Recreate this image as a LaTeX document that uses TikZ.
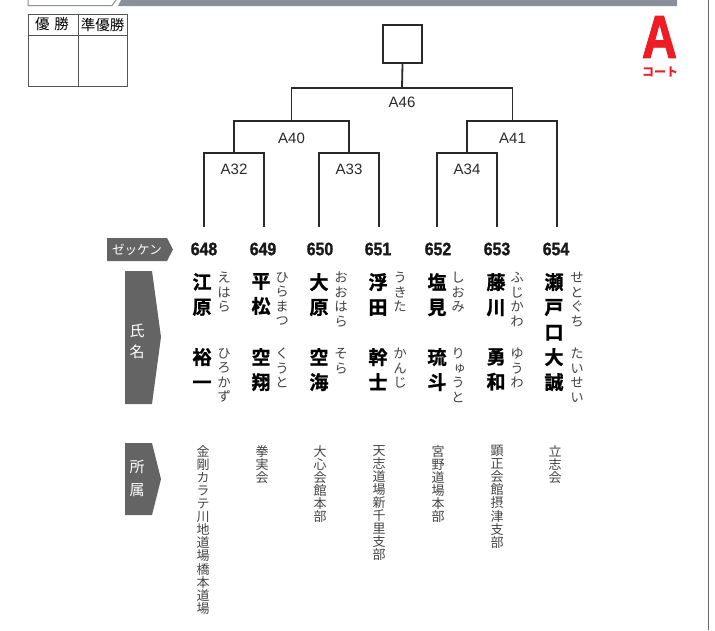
\documentclass[tikz,border=0pt]{standalone}
\usepackage{fontspec}
\usepackage{xcolor}
\usepackage{tikz}
\usetikzlibrary{positioning}

\newfontfamily\jpfont{Noto Sans CJK JP}
\newfontfamily\tatefont[RawFeature=+vert]{Noto Sans CJK JP}
\newfontfamily\tatebold[RawFeature=+vert,FakeBold=1.2]{Noto Sans CJK JP Bold}
\newfontfamily\lsans{Liberation Sans}
\newfontfamily\numfont[FakeStretch=0.88,FakeBold=1.4]{Liberation Sans Bold}
\newfontfamily\courtfont[FakeStretch=0.8,FakeBold=1.5]{Liberation Sans Bold}

\definecolor{bandgrey}{HTML}{8A8F9C}
\definecolor{tabgrey}{HTML}{646464}
\definecolor{courtred}{HTML}{EE1C25}
\definecolor{inkgrey}{HTML}{2A2A2A}
\definecolor{kanagrey}{HTML}{444444}

\begin{document}
\begin{tikzpicture}[x=1pt,y=-1pt,
    bracket/.style={draw=inkgrey,line width=1.8pt},
    match/.style={font=\lsans\fontsize{15}{15}\selectfont,text=inkgrey,inner sep=0pt},
    zekken/.style={font=\numfont\fontsize{18}{18}\selectfont,text=black!90,inner sep=0pt},
    sei/.style={anchor=north,align=center,inner sep=0pt,text=black,font=\tatebold\fontsize{19}{25}\selectfont},
    yomi/.style={anchor=north,align=center,inner sep=0pt,text=kanagrey,font=\tatefont\fontsize{13.5}{14.5}\selectfont},
    dojo/.style={anchor=north,align=center,inner sep=0pt,text=kanagrey,font=\tatefont\fontsize{13}{13.1}\selectfont},
    tagtext/.style={align=center,inner sep=0pt,text=white,font=\jpfont\fontsize{15}{21}\selectfont}]
    \useasboundingbox (0,0) rectangle (715,630);

    % Header band
    \fill[bandgrey] (121,0) -- (677,0) -- (677,6) -- (118,6) -- cycle;
    \draw[bandgrey,line width=1pt] (28,0) -- (28,5.5) -- (112,5.5) -- (116,0);
    \draw[inkgrey!70,line width=0.8pt] (708,0) -- (708,630);

    % Winner table
    \draw[inkgrey!80,line width=0.9pt] (28,14) rectangle (127,86);
    \draw[inkgrey!80,line width=0.9pt] (28,35) -- (127,35);
    \draw[inkgrey!80,line width=0.9pt] (78,14) -- (78,86);
    \node[font=\jpfont\fontsize{14.5}{14.5}\selectfont,inner sep=0pt] (yusho) at (52,24.5) {優\hspace{5pt}勝};
    \node[font=\jpfont\fontsize{14.5}{14.5}\selectfont,inner sep=0pt] (junyusho) at (102.5,24.5) {準優勝};

    % Court mark
    \node[font=\courtfont\fontsize{61}{61}\selectfont,text=courtred,inner sep=0pt] (court) at (659.5,37) {A};
    \node[font=\jpfont\bfseries\fontsize{12}{12}\selectfont,text=courtred,inner sep=0pt] (courtsub) at (660,71.5) {コート};

    % Champion box
    \node[draw=inkgrey,line width=1.8pt,minimum width=39pt,minimum height=38pt,inner sep=0pt] (champ) at (402.5,44) {};

    % Leaves and junctions
    \coordinate (l648) at (204,227);
    \coordinate (l649) at (264,227);
    \coordinate (l650) at (319,227);
    \coordinate (l651) at (379,227);
    \coordinate (l652) at (437,227);
    \coordinate (l653) at (497,227);
    \coordinate (l654) at (557,227);
    \coordinate (j32) at (234,153);
    \coordinate (j33) at (349,153);
    \coordinate (j34) at (467,153);
    \coordinate (j40) at (291.5,121);
    \coordinate (j41) at (512.5,121);
    \coordinate (j46) at (402,88);

    % Bracket lines
    \draw[bracket] (l648) |- (j32) -| (l649);
    \draw[bracket] (l650) |- (j33) -| (l651);
    \draw[bracket] (l652) |- (j34) -| (l653);
    \draw[bracket] (j32) |- (j40) -| (j33);
    \draw[bracket] (j34) |- (j41) -| (l654);
    \draw[bracket] (j40) |- (j46) -| (j41);
    \draw[bracket] (j46) -- (champ.south);

    % Match numbers
    \node[match,below=11pt of j32] (m32) {A32};
    \node[match,below=11pt of j33] (m33) {A33};
    \node[match,below=11pt of j34] (m34) {A34};
    \node[match,below=11.5pt of j40] (m40) {A40};
    \node[match,below=11.5pt of j41] (m41) {A41};
    \node[match,below=9pt of j46] (m46) {A46};

    % Row tags
    \fill[tabgrey] (107,238) -- (167,238) -- (173,249.5) -- (167,261) -- (107,261) -- cycle;
    \node[tagtext,font=\jpfont\fontsize{12.5}{12.5}\selectfont] (zekkentag) at (137,249.5) {ゼッケン};
    \fill[tabgrey] (125,271) -- (152,271) -- (161,337) -- (152,404) -- (125,404) -- cycle;
    \node[tagtext] (shimeitag) at (137,341) {氏\\名};
    \fill[tabgrey] (125,443) -- (152,443) -- (161,479) -- (152,515) -- (125,515) -- cycle;
    \node[tagtext,font=\jpfont\fontsize{15}{23}\selectfont] (shozokutag) at (137,478.5) {所\\属};

    % Bib numbers
    \node[zekken] (z648) at (204,249) {648};
    \node[zekken] (z649) at (263,249) {649};
    \node[zekken] (z650) at (320,249) {650};
    \node[zekken] (z651) at (378,249) {651};
    \node[zekken] (z652) at (438,249) {652};
    \node[zekken] (z653) at (497,249) {653};
    \node[zekken] (z654) at (556,249) {654};

    % Names
    \node[sei] (s648) at (202,273) {江\\原};
    \node[sei] (g648) at (202,348) {裕\\一};
    \node[yomi] (ys648) at (224,272) {え\\は\\ら};
    \node[yomi] (yg648) at (224,348) {ひ\\ろ\\か\\ず};

    \node[sei] (s649) at (261,273) {平\\松};
    \node[sei] (g649) at (261,348) {空\\翔};
    \node[yomi] (ys649) at (282,272) {ひ\\ら\\ま\\つ};
    \node[yomi] (yg649) at (282,348) {く\\う\\と};

    \node[sei] (s650) at (319,273) {大\\原};
    \node[sei] (g650) at (319,348) {空\\海};
    \node[yomi] (ys650) at (341,272) {お\\お\\は\\ら};
    \node[yomi] (yg650) at (341,348) {そ\\ら};

    \node[sei] (s651) at (378,273) {浮\\田};
    \node[sei] (g651) at (378,348) {幹\\士};
    \node[yomi] (ys651) at (400,272) {う\\き\\た};
    \node[yomi] (yg651) at (400,348) {か\\ん\\じ};

    \node[sei] (s652) at (437,273) {塩\\見};
    \node[sei] (g652) at (437,348) {琉\\斗};
    \node[yomi] (ys652) at (458,272) {し\\お\\み};
    \node[yomi] (yg652) at (458,348) {り\\ゅ\\う\\と};

    \node[sei] (s653) at (496,273) {藤\\川};
    \node[sei] (g653) at (496,348) {勇\\和};
    \node[yomi] (ys653) at (517,272) {ふ\\じ\\か\\わ};
    \node[yomi] (yg653) at (517,348) {ゆ\\う\\わ};

    \node[sei] (s654) at (554,273) {瀬\\戸\\口};
    \node[sei] (g654) at (554,348) {大\\誠};
    \node[yomi] (ys654) at (577,272) {せ\\と\\ぐ\\ち};
    \node[yomi] (yg654) at (577,348) {た\\い\\せ\\い};

    % Affiliations
    \node[dojo] (d648) at (203,445) {金\\剛\\カ\\ラ\\テ\\川\\地\\道\\場\\橋\\本\\道\\場};
    \node[dojo] (d649) at (262,445) {拳\\実\\会};
    \node[dojo] (d650) at (320,445) {大\\心\\会\\館\\本\\部};
    \node[dojo] (d651) at (379,445) {天\\志\\道\\場\\新\\千\\里\\支\\部};
    \node[dojo] (d652) at (438,445) {宮\\野\\道\\場\\本\\部};
    \node[dojo] (d653) at (497,445) {顕\\正\\会\\館\\摂\\津\\支\\部};
    \node[dojo] (d654) at (555,445) {立\\志\\会};
\end{tikzpicture}
\end{document}
